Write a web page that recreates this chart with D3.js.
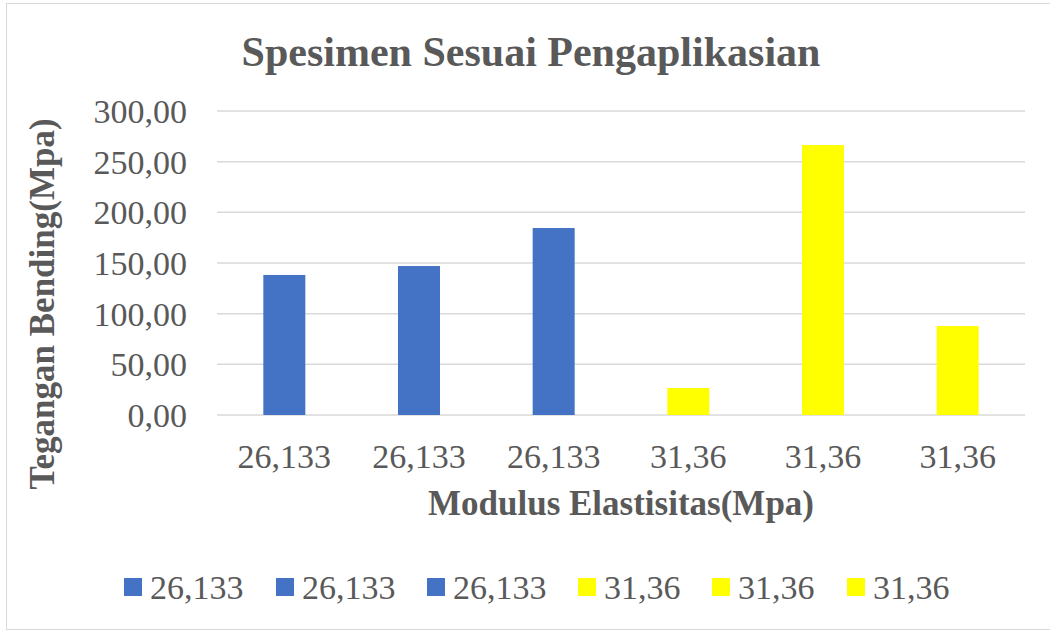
<!DOCTYPE html>
<html>
<head>
<meta charset="utf-8">
<script src="https://cdn.jsdelivr.net/npm/d3@7"></script>
<style>
  body { margin: 0; background: #fff; }
  text { font-family: 'Liberation Serif', 'Times New Roman', serif; fill: #595959; }
</style>
</head>
<body>
<div id="chart"></div>
<script>
const WIDTH = 1050;
const HEIGHT = 632;

// data
const categories = ['26,133', '26,133', '26,133', '31,36', '31,36', '31,36'];
const values = [138.2, 147.0, 184.5, 26.6, 266.4, 87.8];
const seriesColors = ['#4472C4', '#4472C4', '#4472C4', '#FFFF00', '#FFFF00', '#FFFF00'];
const yTicks = [0, 50, 100, 150, 200, 250, 300];

const plot = { left: 217, right: 1025, top: 111, bottom: 415 };

const svg = d3.select('#chart').append('svg')
  .attr('width', WIDTH)
  .attr('height', HEIGHT);

// chart border
svg.append('rect')
  .attr('x', 6.5).attr('y', 3.5)
  .attr('width', WIDTH - 4).attr('height', 626)
  .attr('fill', '#fff')
  .attr('stroke', '#D9D9D9')
  .attr('stroke-width', 1);

const x = d3.scaleBand()
  .domain(d3.range(categories.length))
  .range([plot.left, plot.right]);

const y = d3.scaleLinear()
  .domain([0, 300])
  .range([plot.bottom, plot.top]);

const fmt = d => d3.format('.2f')(d).replace('.', ',');

// gridlines
svg.append('g')
  .selectAll('line')
  .data(yTicks)
  .enter()
  .append('line')
  .attr('x1', plot.left)
  .attr('x2', plot.right)
  .attr('y1', d => y(d))
  .attr('y2', d => y(d))
  .attr('stroke', '#D9D9D9')
  .attr('stroke-width', 1.5);

// y tick labels
svg.append('g')
  .selectAll('text')
  .data(yTicks)
  .enter()
  .append('text')
  .attr('x', 187)
  .attr('y', d => y(d))
  .attr('dy', '0.35em')
  .attr('text-anchor', 'end')
  .style('font-size', '34px')
  .text(fmt);

// bars
const barW = 42;
svg.append('g')
  .selectAll('rect')
  .data(values)
  .enter()
  .append('rect')
  .attr('x', (d, i) => x(i) + x.bandwidth() / 2 - barW / 2)
  .attr('y', d => y(d))
  .attr('width', barW)
  .attr('height', d => y(0) - y(d))
  .attr('fill', (d, i) => seriesColors[i]);

// x tick labels
svg.append('g')
  .selectAll('text')
  .data(categories)
  .enter()
  .append('text')
  .attr('x', (d, i) => x(i) + x.bandwidth() / 2)
  .attr('y', 468)
  .attr('text-anchor', 'middle')
  .style('font-size', '34px')
  .text(d => d);

// title
svg.append('text')
  .attr('x', 531)
  .attr('y', 66)
  .attr('text-anchor', 'middle')
  .style('font-size', '42px')
  .style('font-weight', 'bold')
  .text('Spesimen Sesuai Pengaplikasian');

// axis titles
svg.append('text')
  .attr('x', (plot.left + plot.right) / 2)
  .attr('y', 515)
  .attr('text-anchor', 'middle')
  .style('font-size', '35px')
  .style('font-weight', 'bold')
  .text('Modulus Elastisitas(Mpa)');

svg.append('text')
  .attr('transform', 'translate(54, 304) rotate(-90)')
  .attr('text-anchor', 'middle')
  .style('font-size', '35px')
  .style('font-weight', 'bold')
  .text('Tegangan Bending(Mpa)');

// legend
const legendX = [124, 276, 427, 578, 712, 847];
const legend = svg.append('g')
  .selectAll('g')
  .data(categories)
  .enter()
  .append('g')
  .attr('transform', (d, i) => `translate(${legendX[i]}, 587)`);

legend.append('rect')
  .attr('x', 0)
  .attr('y', -9)
  .attr('width', 18)
  .attr('height', 18)
  .attr('fill', (d, i) => seriesColors[i]);

legend.append('text')
  .attr('x', 26)
  .attr('y', 0)
  .attr('dy', '0.35em')
  .style('font-size', '34px')
  .text(d => d);
</script>
</body>
</html>
